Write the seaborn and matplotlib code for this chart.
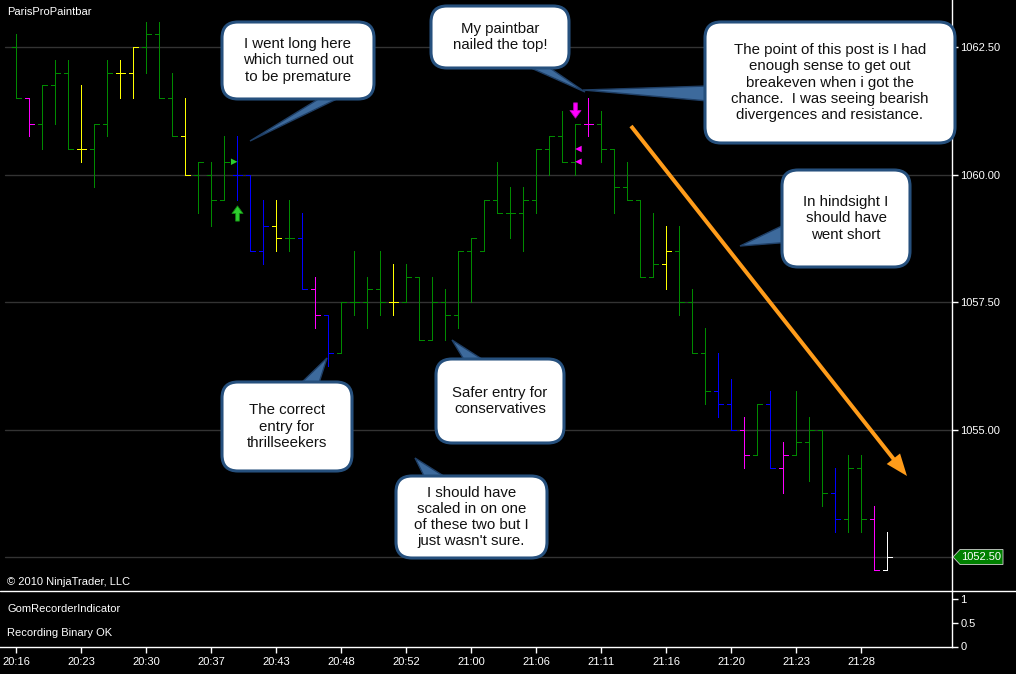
import numpy as np
import pandas as pd
import matplotlib
matplotlib.use("Agg")
import matplotlib.pyplot as plt
from matplotlib.patches import FancyBboxPatch, Polygon, FancyArrow
from matplotlib.path import Path
import seaborn as sns

# ---------------- data ----------------
opens = [1062.5, 1061.5, 1061.0, 1061.75, 1062.0, 1060.5, 1060.5, 1061.0, 1062.0, 1062.0,
         1062.5, 1062.75, 1061.5, 1060.75, 1060.0, 1060.0, 1059.5, 1060.0, 1060.0, 1058.5,
         1059.0, 1058.75, 1058.75, 1057.75, 1057.25, 1056.5, 1057.5, 1057.5, 1057.75, 1057.5,
         1057.5, 1058.0, 1056.75, 1057.5, 1057.25, 1058.5, 1058.5, 1059.5, 1059.25, 1059.25,
         1059.5, 1060.5, 1060.75, 1060.25, 1061.0, 1061.0, 1060.5, 1059.75, 1059.5, 1058.0,
         1058.25, 1058.5, 1057.5, 1056.5, 1055.75, 1055.5, 1055.0, 1054.5, 1055.5, 1054.25,
         1054.5, 1054.75, 1055.0, 1053.75, 1053.25, 1054.25, 1053.25, 1052.25]
highs = [1062.75, 1061.5, 1061.75, 1062.25, 1062.25, 1061.75, 1061.0, 1062.25, 1062.25, 1062.5,
         1063.0, 1063.0, 1062.0, 1061.5, 1060.25, 1060.25, 1060.75, 1060.75, 1060.0, 1059.5,
         1059.5, 1059.5, 1059.25, 1058.0, 1057.25, 1057.5, 1058.5, 1058.0, 1058.5, 1058.25,
         1058.25, 1058.0, 1058.0, 1057.75, 1058.5, 1058.75, 1059.5, 1060.25, 1059.75, 1059.75,
         1060.5, 1060.75, 1061.25, 1061.0, 1061.5, 1061.25, 1060.5, 1060.25, 1059.5, 1059.25,
         1059.0, 1059.0, 1057.75, 1057.0, 1056.5, 1056.0, 1055.25, 1055.5, 1055.75, 1054.75,
         1055.75, 1055.25, 1055.0, 1054.25, 1054.5, 1054.5, 1053.5, 1053.0]
lows = [1061.5, 1060.75, 1060.5, 1061.0, 1060.5, 1060.25, 1059.75, 1060.75, 1061.5, 1061.5,
        1062.0, 1061.5, 1060.75, 1060.0, 1059.25, 1059.0, 1059.5, 1059.5, 1058.5, 1058.25,
        1058.5, 1058.5, 1057.75, 1057.0, 1056.25, 1056.5, 1057.25, 1057.0, 1057.25, 1057.25,
        1057.5, 1056.75, 1056.75, 1056.75, 1057.0, 1057.5, 1058.5, 1059.25, 1058.75, 1058.5,
        1059.25, 1060.0, 1060.25, 1060.0, 1060.75, 1060.25, 1059.25, 1059.5, 1058.0, 1058.0,
        1057.75, 1057.25, 1056.5, 1055.5, 1055.25, 1055.0, 1054.25, 1054.5, 1054.25, 1053.75,
        1054.5, 1054.0, 1053.5, 1053.0, 1053.0, 1053.0, 1052.25, 1052.25]
closes = [1061.5, 1061.0, 1061.75, 1062.0, 1060.5, 1060.5, 1061.0, 1062.0, 1062.0, 1062.5,
          1062.75, 1061.5, 1060.75, 1060.0, 1060.25, 1059.5, 1060.25, 1060.0, 1058.5, 1059.0,
          1058.75, 1058.75, 1057.75, 1057.25, 1056.5, 1057.5, 1057.5, 1057.75, 1057.5, 1057.5,
          1058.0, 1056.75, 1057.5, 1057.25, 1058.5, 1058.75, 1059.5, 1059.25, 1059.25, 1059.5,
          1060.5, 1060.75, 1060.25, 1061.0, 1061.0, 1060.5, 1059.75, 1059.5, 1058.0, 1058.25,
          1058.5, 1057.5, 1056.5, 1055.75, 1055.5, 1055.0, 1054.5, 1055.5, 1054.25, 1054.5,
          1054.75, 1055.0, 1053.75, 1053.25, 1054.25, 1053.25, 1052.25, 1052.5]
# paint-bar colour code per bar (rows of ten bars)
paint = ["g", "m", "g", "g", "g", "y", "g", "g", "y", "y",
         "g", "g", "g", "y", "g", "g", "g", "b", "b", "b",
         "y", "g", "b", "m", "b", "g", "g", "g", "g", "y",
         "g", "g", "g", "g", "g", "g", "g", "g", "g", "g",
         "g", "g", "g", "g", "m", "g", "g", "g", "g", "g",
         "y", "g", "g", "g", "b", "b", "m", "g", "b", "m",
         "g", "g", "g", "b", "g", "g", "m", "w"]

time_label_bars = [0, 5, 10, 15, 20, 25, 30, 35, 40, 45, 50, 55, 60, 65]
time_labels = ["20:16", "20:23", "20:30", "20:37", "20:43", "20:48", "20:52",
               "21:00", "21:06", "21:11", "21:16", "21:20", "21:23", "21:28"]
price_ticks = [1055.0, 1057.5, 1060.0, 1062.5]
grid_prices = [1052.5, 1055.0, 1057.5, 1060.0, 1062.5]
lower_ticks = [0, 0.5, 1]
lower_labels = ["0", "0.5", "1"]

long_arrow_bars = [17]
long_arrow_prices = [1059.24]
long_tri_bars = [17]
long_tri_prices = [1060.25]
short_arrow_bars = [43]
short_arrow_prices = [1061.27]
short_tri_bars = [43, 43]
short_tri_prices = [1060.5, 1060.25]

callouts = [
    ((222, 22, 374, 99), [(325, 95), (345, 95), (250, 141)],
     "I went long here\nwhich turned out\nto be premature"),
    ((431, 6, 569, 68), [(522, 64), (544, 64), (585, 92)],
     "My paintbar\nnailed the top!"),
    ((705, 22, 955, 143), [(708, 86), (708, 101), (583, 90)],
     "The point of this post is I had\nenough sense to get out\nbreakeven when i got the\n"
     "chance.  I was seeing bearish\ndivergences and resistance."),
    ((782, 170, 910, 267), [(786, 224), (792, 242), (740, 246)],
     "In hindsight I\nshould have\nwent short"),
    ((222, 382, 352, 471), [(298, 386), (318, 386), (327, 358)],
     "The correct\nentry for\nthrillseekers"),
    ((436, 359, 564, 443), [(466, 363), (488, 363), (452, 340)],
     "Safer entry for\nconservatives"),
    ((396, 476, 547, 558), [(426, 480), (450, 480), (415, 458)],
     "I should have\nscaled in on one\nof these two but I\njust wasn't sure."),
]

# ---------------- style ----------------
sns.set_theme(style="dark")
plt.rcParams["font.family"] = ["Liberation Sans", "DejaVu Sans"]
plt.rcParams["axes.facecolor"] = "black"
plt.rcParams["figure.facecolor"] = "black"

cmap = {"g": "#008a00", "m": "#ff00ff", "y": "#ffff00", "b": "#0000ff", "w": "#ffffff"}
colors = [cmap[c] for c in paint]

W, H = 1016, 674
fig = plt.figure(figsize=(W / 100, H / 100), dpi=100, facecolor="black")
ax = fig.add_axes([0, (H - 591) / H, 952 / W, 591 / H])
axb = fig.add_axes([0, (H - 647) / H, 952 / W, 56 / H])
ov = fig.add_axes([0, 0, 1, 1])
ov.set_xlim(0, W)
ov.set_ylim(H, 0)
ov.axis("off")
ov.patch.set_alpha(0)
ov.set_zorder(10)

for a in (ax, axb):
    a.set_facecolor("black")
    a.grid(False)

# main panel scales
x0 = -16.3 / 13
x1 = (952 - 16.3) / 13
ax.set_xlim(x0, x1)
ax.set_ylim(1062.5 - 544 / 51, 1062.5 + 47 / 51)
axb.set_xlim(x0, x1)
axb.set_ylim(-0.5 / 47.5, 1 + 8 / 47.5)

for p in grid_prices:
    ax.axhline(p, xmin=5 / 952, xmax=1, color="#333333", lw=1, zorder=0)

idx = np.arange(len(opens))
lw_bar = 0.6
ax.vlines(idx, lows, highs, colors=colors, lw=lw_bar, antialiased=False, zorder=2)
ax.hlines(opens, idx - 0.33, idx, colors=colors, lw=lw_bar, antialiased=False, zorder=2)
ax.hlines(closes, idx, idx + 0.33, colors=colors, lw=lw_bar, antialiased=False, zorder=2)

up_path = Path([(-0.12, -0.5), (0.12, -0.5), (0.12, 0.0), (0.36, 0.0), (0.0, 0.5),
                (-0.36, 0.0), (-0.12, 0.0), (-0.12, -0.5)], closed=True)
down_path = Path([(x, -y) for x, y in up_path.vertices], closed=True)

df_la = pd.DataFrame({"bar": long_arrow_bars, "price": long_arrow_prices})
df_lt = pd.DataFrame({"bar": np.array(long_tri_bars) - 0.24, "price": long_tri_prices})
df_sa = pd.DataFrame({"bar": short_arrow_bars, "price": short_arrow_prices})
df_st = pd.DataFrame({"bar": np.array(short_tri_bars) + 0.24, "price": short_tri_prices})
sns.scatterplot(data=df_la, x="bar", y="price", marker=up_path, s=120, color="#2ecc2e",
                edgecolor="#128a12", linewidth=0.6, ax=ax, legend=False, zorder=4)
sns.scatterplot(data=df_lt, x="bar", y="price", marker=">", s=22, color="#2ecc2e",
                edgecolor="none", ax=ax, legend=False, zorder=4)
sns.scatterplot(data=df_sa, x="bar", y="price", marker=down_path, s=120, color="#ff00ff",
                edgecolor="#c000c0", linewidth=0.6, ax=ax, legend=False, zorder=4)
sns.scatterplot(data=df_st, x="bar", y="price", marker="<", s=22, color="#ff00ff",
                edgecolor="none", ax=ax, legend=False, zorder=4)
ax.set_xlabel("")
ax.set_ylabel("")

# axes / ticks
for s in ("top", "left", "bottom"):
    ax.spines[s].set_visible(False)
ax.spines["right"].set_visible(True)
ax.spines["right"].set_color("white")
ax.spines["right"].set_linewidth(1)
ax.yaxis.tick_right()
ax.set_yticks(price_ticks)
ax.set_yticklabels([f"{p:.2f}" for p in price_ticks])
ax.tick_params(axis="y", colors="white", length=4, width=1, labelsize=8, pad=2,
               right=True, left=False)
ax.set_xticks([])

for s in ("top", "left"):
    axb.spines[s].set_visible(False)
for s in ("right", "bottom"):
    axb.spines[s].set_visible(True)
    axb.spines[s].set_color("white")
    axb.spines[s].set_linewidth(1)
axb.yaxis.tick_right()
axb.set_yticks(lower_ticks)
axb.set_yticklabels(lower_labels)
axb.tick_params(axis="y", colors="white", length=4, width=1, labelsize=8, pad=2,
                right=True, left=False)
axb.set_xticks(time_label_bars)
axb.set_xticklabels(time_labels)
axb.tick_params(axis="x", colors="white", length=4, width=1, labelsize=8, pad=3,
                bottom=True, direction="out")

# separator line
ov.plot([0, W], [591, 591], color="white", lw=1)

# texts
ov.text(7, 12, "ParisProPaintbar", color="white", fontsize=8, va="center", ha="left")
ov.text(7, 582, "\u00a9 2010 NinjaTrader, LLC", color="white", fontsize=8, va="center", ha="left")
ov.text(7, 609, "GomRecorderIndicator", color="white", fontsize=8, va="center", ha="left")
ov.text(7, 633, "Recording Binary OK", color="white", fontsize=8, va="center", ha="left")

# last price tag
fig.canvas.draw()
ydisp = ax.transData.transform((0, closes[-1]))[1]
ty = H - ydisp
tag = Polygon([(953, ty), (960, ty - 7.5), (1003, ty - 7.5), (1003, ty + 7.5), (960, ty + 7.5)],
              closed=True, facecolor="#008000", edgecolor="#d0d0d0", lw=0.6)
ov.add_patch(tag)
ov.text(981.5, ty, f"{closes[-1]:.2f}", color="white", fontsize=8, ha="center", va="center")

# orange arrow
ov.add_patch(FancyArrow(631, 126, 907 - 631, 476 - 126, width=4, head_width=17,
                        head_length=22, length_includes_head=True,
                        color="#ff9c1a", lw=0))

# callouts
for (bx0, by0, bx1, by1), tail, txt in callouts:
    ov.add_patch(Polygon(tail, closed=True, facecolor="#3d6a9c", edgecolor="#1f3f66", lw=1))
    ov.add_patch(FancyBboxPatch((bx0, by0), bx1 - bx0, by1 - by0,
                                boxstyle="round,pad=0,rounding_size=16",
                                facecolor="white", edgecolor="#26507d", lw=2.2))
    ov.text((bx0 + bx1) / 2, (by0 + by1) / 2, txt, color="#111111", fontsize=10.8,
            ha="center", va="center", linespacing=1.2)

fig.savefig("out.png", dpi=100, facecolor="black")
